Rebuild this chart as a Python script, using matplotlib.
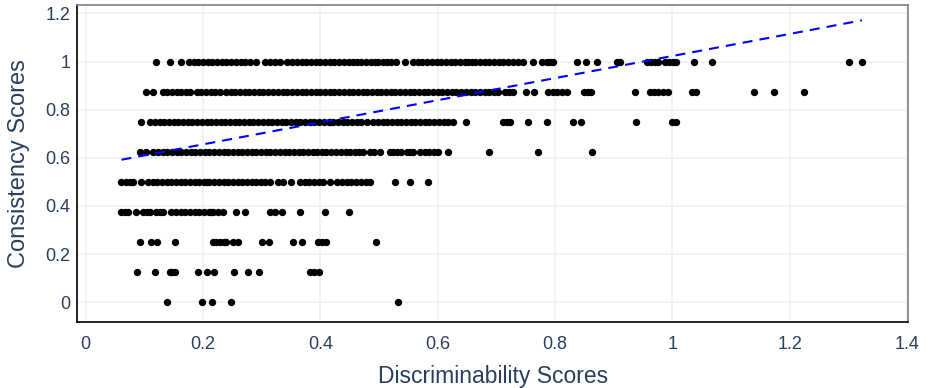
import matplotlib.pyplot as plt

# consistency levels and the discriminability scores found at each level
y_levels = [1.0, 0.875, 0.75, 0.625, 0.5, 0.375, 0.25, 0.125, 0.0]

x_at_1000 = [0.120, 0.144, 0.162,
             0.176, 0.184, 0.192, 0.200, 0.208, 0.216, 0.224, 0.232, 0.240, 0.248,
             0.256, 0.264, 0.272, 0.280, 0.291,
             0.306, 0.314, 0.322, 0.331,
             0.344, 0.352, 0.360, 0.368, 0.376, 0.384, 0.392, 0.400, 0.408, 0.416,
             0.424, 0.432, 0.440, 0.448, 0.455, 0.462,
             0.470, 0.478, 0.486, 0.493, 0.498,
             0.507, 0.514, 0.521, 0.529, 0.544,
             0.558, 0.566, 0.574, 0.582, 0.590, 0.598, 0.606, 0.614, 0.622, 0.630,
             0.638, 0.646, 0.652, 0.658,
             0.664, 0.672, 0.680, 0.688, 0.696, 0.704, 0.712,
             0.720, 0.728, 0.737, 0.746, 0.763, 0.777, 0.786, 0.792, 0.797,
             0.837, 0.852, 0.872, 0.905, 0.911,
             0.956, 0.964, 0.970, 0.976, 0.988, 0.995, 1.001, 1.007,
             1.037, 1.067, 1.301, 1.323]

x_at_0875 = [0.1035, 0.115,
             0.131, 0.139, 0.147, 0.155, 0.163, 0.171, 0.177,
             0.189, 0.197, 0.205, 0.213, 0.221, 0.229, 0.239,
             0.247, 0.255, 0.263, 0.271, 0.279, 0.287, 0.295, 0.303, 0.311, 0.319,
             0.328, 0.336, 0.344, 0.352, 0.360, 0.368, 0.376, 0.384, 0.392, 0.400,
             0.408, 0.416, 0.424, 0.432, 0.440, 0.448, 0.456, 0.464, 0.472, 0.480,
             0.488, 0.496, 0.504, 0.512, 0.520, 0.528, 0.536, 0.544, 0.552, 0.560,
             0.568, 0.576, 0.584, 0.592, 0.600, 0.608, 0.616, 0.624, 0.632, 0.640,
             0.648, 0.656, 0.664, 0.672, 0.680, 0.688, 0.696, 0.703,
             0.715, 0.722, 0.729, 0.751, 0.764,
             0.788, 0.796, 0.804, 0.812, 0.820, 0.849, 0.856, 0.862,
             0.936, 0.962, 0.969, 0.976, 0.984, 0.993,
             1.034, 1.041, 1.139, 1.173, 1.225]

x_at_0750 = [0.095,
             0.110, 0.118, 0.126, 0.134, 0.142, 0.150, 0.158, 0.166, 0.174, 0.182,
             0.190, 0.198, 0.206, 0.214, 0.222, 0.230, 0.238, 0.246, 0.254, 0.262,
             0.270, 0.278, 0.286, 0.294, 0.302, 0.310, 0.318, 0.326, 0.334, 0.342,
             0.350, 0.358, 0.366, 0.374, 0.382, 0.390, 0.398, 0.406, 0.414, 0.416,
             0.422, 0.430, 0.438, 0.446, 0.454, 0.462, 0.470, 0.479,
             0.490, 0.498, 0.506, 0.514, 0.522, 0.530, 0.538, 0.546, 0.554, 0.562,
             0.570, 0.578, 0.586, 0.594, 0.602, 0.610, 0.618, 0.626,
             0.648, 0.712, 0.718, 0.723, 0.754, 0.786, 0.831, 0.845, 0.938,
             0.999, 1.007]

x_at_0625 = [0.092, 0.1035, 0.115,
             0.123, 0.131, 0.139, 0.147, 0.155, 0.163, 0.171, 0.179, 0.187, 0.195,
             0.203, 0.211, 0.219, 0.227, 0.235, 0.243, 0.251, 0.259, 0.267, 0.275,
             0.283, 0.291, 0.299, 0.307, 0.315, 0.323, 0.331, 0.339, 0.347, 0.355,
             0.363, 0.371, 0.379, 0.387, 0.395, 0.403, 0.410,
             0.419, 0.427, 0.435, 0.443, 0.451, 0.459, 0.466, 0.473,
             0.484, 0.492, 0.501, 0.518, 0.524, 0.530, 0.538, 0.547, 0.553, 0.558,
             0.570, 0.578, 0.586, 0.594, 0.601,
             0.617, 0.687, 0.771, 0.863]

x_at_0500 = [0.061, 0.068, 0.075, 0.081, 0.094,
             0.106, 0.114, 0.122, 0.130, 0.138, 0.146, 0.154, 0.162, 0.170, 0.178,
             0.186, 0.194, 0.202, 0.206,
             0.211, 0.219, 0.227, 0.235, 0.243, 0.251, 0.259, 0.267, 0.275, 0.283,
             0.291, 0.299, 0.305,
             0.314, 0.328, 0.336, 0.350,
             0.365, 0.373, 0.381, 0.389, 0.397, 0.405, 0.416,
             0.429, 0.437, 0.445, 0.453, 0.461, 0.469, 0.477, 0.484,
             0.527, 0.553, 0.584]

x_at_0375 = [0.061, 0.067, 0.072, 0.086, 0.098, 0.104, 0.109, 0.120, 0.126, 0.132,
             0.146, 0.154, 0.162, 0.170, 0.178, 0.186, 0.194, 0.202, 0.210, 0.214,
             0.217, 0.225, 0.234, 0.256, 0.272, 0.314, 0.322, 0.335, 0.365, 0.408,
             0.449]

x_at_0250 = [0.092, 0.112, 0.121, 0.153, 0.217, 0.223, 0.229, 0.235, 0.240, 0.251,
             0.260, 0.301, 0.313, 0.354, 0.368, 0.396, 0.403, 0.410, 0.495]

x_at_0125 = [0.088, 0.118, 0.143, 0.148, 0.153, 0.192, 0.206, 0.219, 0.252, 0.276,
             0.295, 0.383, 0.390, 0.398]

x_at_0000 = [0.139, 0.199, 0.215, 0.248, 0.532]

rows = [x_at_1000, x_at_0875, x_at_0750, x_at_0625, x_at_0500,
        x_at_0375, x_at_0250, x_at_0125, x_at_0000]

# fitted trend line, end points
trend_x = [0.061, 1.323]
trend_y = [0.592, 1.171]

x_ticks = [0, 0.2, 0.4, 0.6, 0.8, 1, 1.2, 1.4]
x_tick_labels = ['0', '0.2', '0.4', '0.6', '0.8', '1', '1.2', '1.4']
y_ticks = [0, 0.2, 0.4, 0.6, 0.8, 1, 1.2]
y_tick_labels = ['0', '0.2', '0.4', '0.6', '0.8', '1', '1.2']

text_color = '#2a3f5f'
grid_color = '#ebf0f8'

plt.rcParams['font.family'] = ['Liberation Sans', 'DejaVu Sans']

fig = plt.figure(figsize=(9.47, 3.88), dpi=100)
ax = fig.add_axes([0.0816, 0.1701, 0.8772, 0.8170])

for level, xs in zip(y_levels, rows):
    ax.scatter(xs, [level] * len(xs), s=28, color='black', linewidths=0, zorder=3)

ax.plot(trend_x, trend_y, color='blue', linewidth=1.5, dashes=(4.8, 3.4), zorder=4)

ax.set_xlim(-0.0143, 1.4016)
ax.set_ylim(-0.082, 1.2347)
ax.set_xticks(x_ticks)
ax.set_xticklabels(x_tick_labels)
ax.set_yticks(y_ticks)
ax.set_yticklabels(y_tick_labels)
ax.grid(True, color=grid_color, linewidth=1.2, zorder=0)
ax.set_axisbelow(True)
ax.tick_params(length=0, labelsize=13, colors=text_color)
ax.tick_params(axis='x', pad=10)
ax.tick_params(axis='y', pad=5)

ax.spines['left'].set_color('black')
ax.spines['bottom'].set_color('black')
ax.spines['top'].set_color('#7f7f7f')
ax.spines['right'].set_color('#7f7f7f')
for s in ax.spines.values():
    s.set_linewidth(1.2)

ax.set_xlabel('Discriminability Scores', fontsize=16.5, color=text_color, labelpad=9)
ax.set_ylabel('Consistency Scores', fontsize=17, color=text_color, labelpad=11)

fig.savefig('out.png', dpi=100, facecolor='white')
